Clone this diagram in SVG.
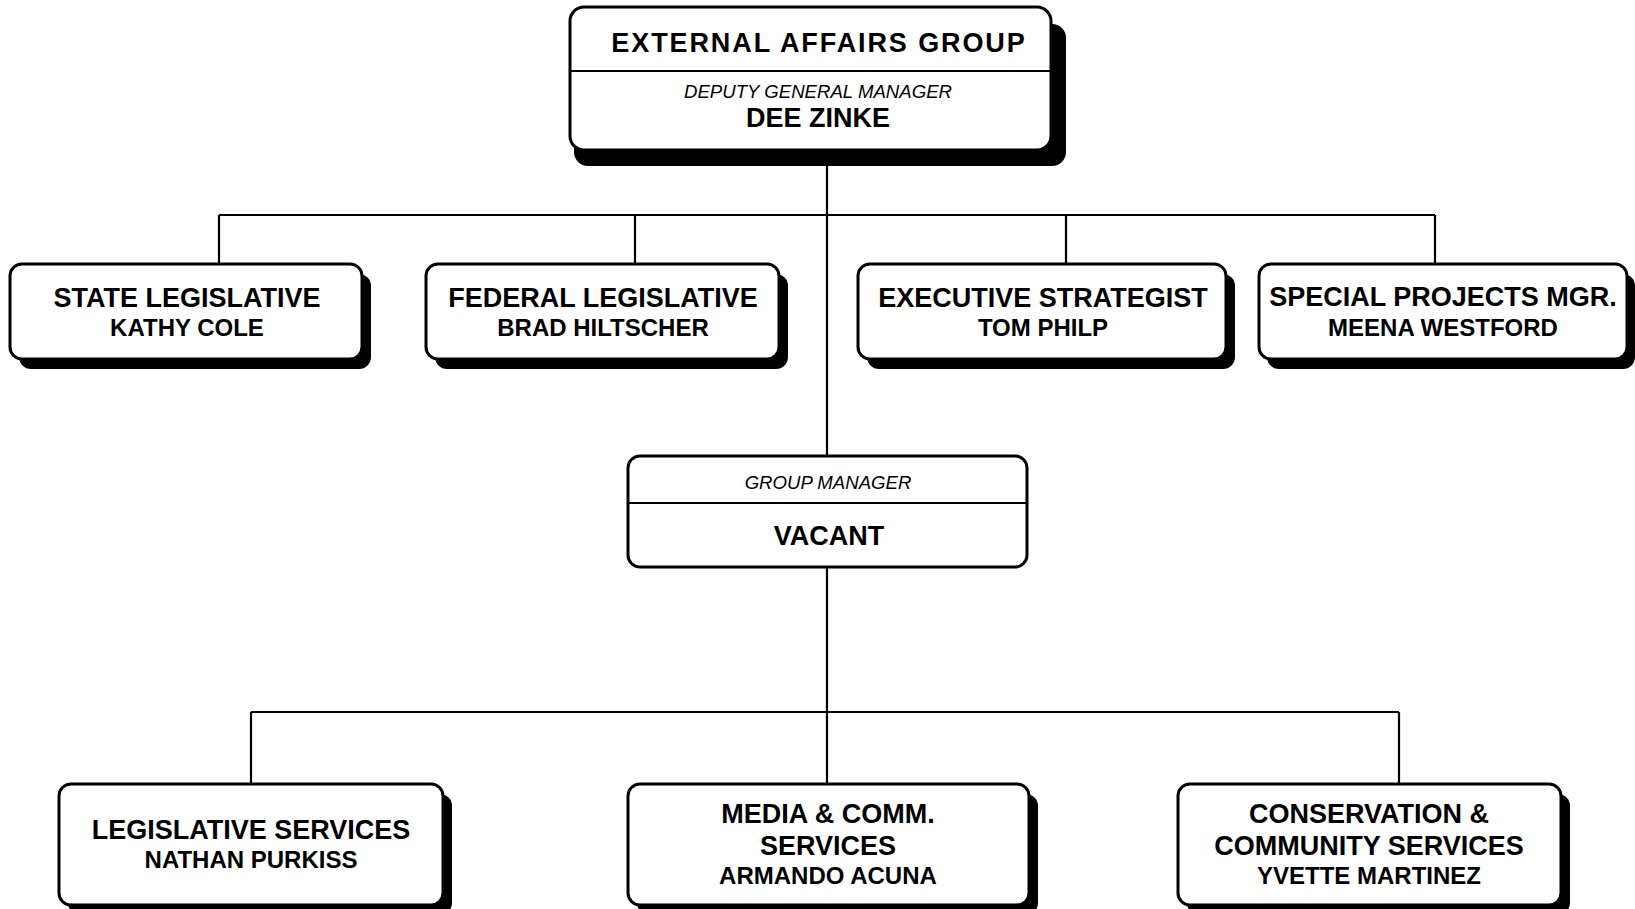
<svg xmlns="http://www.w3.org/2000/svg" width="1635" height="909" viewBox="0 0 1635 909">
<style>
.bg{fill:#fff}
.box{fill:#fff;stroke:#000;stroke-width:3}
.shadow{fill:#000}
.div{stroke:#000;stroke-width:2}
.conn{stroke:#000;stroke-width:2.2;fill:none}
.t{font-family:"Liberation Sans",Arial,sans-serif;font-weight:bold;font-size:27px;text-anchor:middle;fill:#000}
.n{font-family:"Liberation Sans",Arial,sans-serif;font-weight:bold;font-size:24px;text-anchor:middle;fill:#000}
.i{font-family:"Liberation Sans",Arial,sans-serif;font-style:italic;font-size:18.6px;text-anchor:middle;fill:#000}
</style>
<rect class="bg" x="0" y="0" width="1635" height="909"/>
<g id="connectors">
<path class="conn" d="M827 150V456M219 215H1435M219 215V264M635 215V264M1066 215V264M1435 215V264"/>
<path class="conn" d="M827 567V784M251 712H1399M251 712V784M1399 712V784"/>
</g>
<g id="external-affairs">
<rect class="shadow" x="574" y="24" width="492" height="142" rx="14"/>
<rect class="box" x="570" y="7" width="481" height="143" rx="14" stroke-width="3.5"/>
<line class="div" x1="570" y1="71" x2="1051" y2="71"/>
<text class="t" x="819" y="52" font-size="31.5" letter-spacing="1.9">EXTERNAL AFFAIRS GROUP</text>
<text class="i" x="818" y="98">DEPUTY GENERAL MANAGER</text>
<text class="t" x="818" y="127" font-size="27">DEE ZINKE</text>
</g>
<g id="state-legislative">
<rect class="shadow" x="19" y="274" width="352" height="95" rx="12"/>
<rect class="box" x="10" y="264" width="352" height="95" rx="12"/>
<text class="t" x="187" y="307">STATE LEGISLATIVE</text>
<text class="n" x="187" y="336">KATHY COLE</text>
</g>
<g id="federal-legislative">
<rect class="shadow" x="435" y="274" width="353" height="95" rx="12"/>
<rect class="box" x="426" y="264" width="353" height="95" rx="12"/>
<text class="t" x="603" y="307">FEDERAL LEGISLATIVE</text>
<text class="n" x="603" y="336">BRAD HILTSCHER</text>
</g>
<g id="executive-strategist">
<rect class="shadow" x="867" y="274" width="368" height="95" rx="12"/>
<rect class="box" x="858" y="264" width="368" height="95" rx="12"/>
<text class="t" x="1043" y="307" font-size="26.8">EXECUTIVE STRATEGIST</text>
<text class="n" x="1043" y="336">TOM PHILP</text>
</g>
<g id="special-projects">
<rect class="shadow" x="1267" y="274" width="368" height="95" rx="12"/>
<rect class="box" x="1259" y="264" width="368" height="95" rx="12"/>
<text class="t" x="1443" y="306" font-size="26.8">SPECIAL PROJECTS MGR.</text>
<text class="n" x="1443" y="336">MEENA WESTFORD</text>
</g>
<g id="group-manager">
<rect class="box" x="628" y="456" width="399" height="111" rx="12"/>
<line class="div" x1="628" y1="503" x2="1027" y2="503"/>
<text class="i" x="828" y="489" font-size="18.5">GROUP MANAGER</text>
<text class="t" x="829" y="545" font-size="26.5">VACANT</text>
</g>
<g id="legislative-services">
<rect class="shadow" x="68" y="794" width="384" height="121" rx="12"/>
<rect class="box" x="59" y="784" width="384" height="121" rx="12"/>
<text class="t" x="251" y="839" font-size="26.4">LEGISLATIVE SERVICES</text>
<text class="n" x="251" y="868">NATHAN PURKISS</text>
</g>
<g id="media-comm">
<rect class="shadow" x="637" y="794" width="401" height="121" rx="12"/>
<rect class="box" x="628" y="784" width="401" height="121" rx="12"/>
<text class="t" x="828" y="823" font-size="26.4">MEDIA &amp; COMM.</text>
<text class="t" x="828" y="855" font-size="26.4">SERVICES</text>
<text class="n" x="828" y="884">ARMANDO ACUNA</text>
</g>
<g id="conservation">
<rect class="shadow" x="1187" y="794" width="383" height="121" rx="12"/>
<rect class="box" x="1178" y="784" width="383" height="121" rx="12"/>
<text class="t" x="1369" y="823" font-size="26.4">CONSERVATION &amp;</text>
<text class="t" x="1369" y="855" font-size="26.4">COMMUNITY SERVICES</text>
<text class="n" x="1369" y="884">YVETTE MARTINEZ</text>
</g>
</svg>
